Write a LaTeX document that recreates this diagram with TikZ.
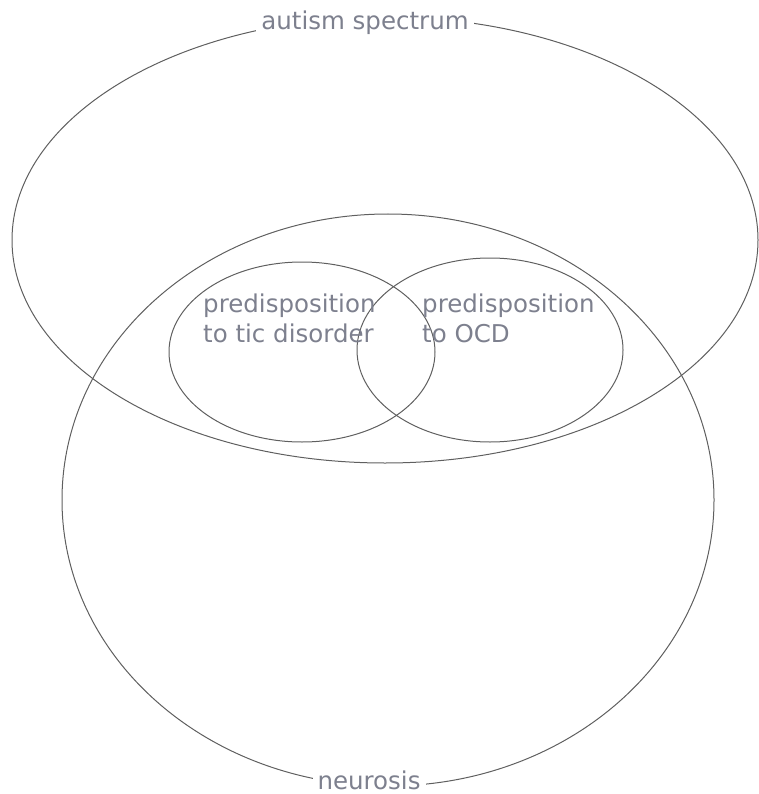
\documentclass[tikz,border=0pt]{standalone}
\usepackage{fontspec}
\setmainfont{DejaVu Sans}
\definecolor{setline}{RGB}{95,95,95}
\definecolor{settext}{RGB}{125,128,142}
\tikzset{
  setedge/.style={draw=setline,line width=1pt},
  setname/.style={text=settext,fill=white,inner sep=5pt,
    font=\fontsize{24.5}{30}\selectfont},
  setnote/.style={text=settext,inner sep=0pt,align=left,anchor=north west,
    font=\fontsize{24.5}{30}\selectfont}
}
\begin{document}
\begin{tikzpicture}[x=1pt,y=-1pt]
  \useasboundingbox (0,0) rectangle (759,794);
  % the four sets
  \draw[setedge] (385,240) ellipse [x radius=373,y radius=223];
  \draw[setedge] (388,500) ellipse [x radius=326,y radius=286];
  \draw[setedge] (302,352) ellipse [x radius=133,y radius=90];
  \draw[setedge] (490,350) ellipse [x radius=133,y radius=92];
  % labels on the outlines
  \node[setname] (autism) at (365,23) {autism spectrum};
  \node[setname,inner ysep=2pt] (neurosis) at (369,780) {neurosis};
  % labels inside
  \node[setnote] (tic) at (203,294) {predisposition\\to tic disorder};
  \node[setnote] (ocd) at (422,294) {predisposition\\to OCD};
\end{tikzpicture}
\end{document}
